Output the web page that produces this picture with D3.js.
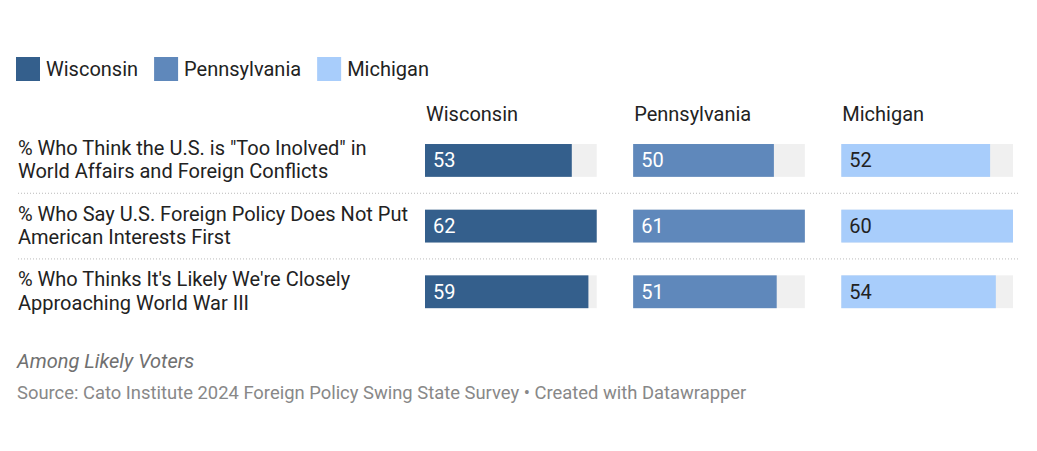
<!DOCTYPE html>
<html>
<head>
<meta charset="utf-8">
<script src="https://cdn.jsdelivr.net/npm/d3@7"></script>
<style>
  body { margin: 0; background: #fff; font-family: Roboto, "Noto Sans", sans-serif; }
</style>
</head>
<body>
<div id="chart"></div>
<script>
// data
const states = ["Wisconsin", "Pennsylvania", "Michigan"];
const colors = ["#345f8c", "#5f88bb", "#a8cdfb"];
const labelColors = ["#ffffff", "#ffffff", "#222222"];
const questions = [
  ["% Who Think the U.S. is \"Too Inolved\" in", "World Affairs and Foreign Conflicts"],
  ["% Who Say U.S. Foreign Policy Does Not Put", "American Interests First"],
  ["% Who Thinks It's Likely We're Closely", "Approaching World War III"]
];
const wisconsin = [53, 62, 59];
const pennsylvania = [50, 61, 51];
const michigan = [52, 60, 54];
const values = [wisconsin, pennsylvania, michigan];
const note = "Among Likely Voters";
const source = "Source: Cato Institute 2024 Foreign Policy Swing State Survey \u2022 Created with Datawrapper";

const width = 1037, height = 451;
const svg = d3.select("#chart").append("svg")
  .attr("width", width).attr("height", height);

// legend
let lx = 16;
states.forEach((s, i) => {
  const g = svg.append("g").attr("transform", "translate(" + lx + ",57)");
  g.append("rect").attr("width", 24).attr("height", 24).attr("fill", colors[i]);
  const t = g.append("text").attr("x", 30).attr("y", 19)
    .attr("font-size", 20).attr("fill", "#222").text(s);
  lx += 30 + t.node().getComputedTextLength() + 16;
});

// columns
const colX = d3.scaleBand().domain(states).range([425, 1013]).paddingInner(0.175);
const rowY = d3.scaleBand().domain(d3.range(questions.length)).range([127.6, 324.6]).paddingInner(0.5).paddingOuter(0.25);

states.forEach((s, ci) => {
  svg.append("text")
    .attr("x", colX(s) + 1).attr("y", 121)
    .attr("font-size", 20).attr("fill", "#222").text(s);
  const x = d3.scaleLinear().domain([0, d3.max(values[ci])]).range([0, colX.bandwidth()]);
  const g = svg.append("g").attr("transform", "translate(" + colX(s) + ",0)");
  g.selectAll("rect.bg").data(values[ci]).enter().append("rect")
    .attr("class", "bg")
    .attr("x", 0).attr("y", (d, i) => rowY(i))
    .attr("width", colX.bandwidth()).attr("height", rowY.bandwidth())
    .attr("fill", "#f0f0f0");
  g.selectAll("rect.bar").data(values[ci]).enter().append("rect")
    .attr("class", "bar")
    .attr("x", 0).attr("y", (d, i) => rowY(i))
    .attr("width", d => x(d)).attr("height", rowY.bandwidth())
    .attr("fill", colors[ci]);
  g.selectAll("text.val").data(values[ci]).enter().append("text")
    .attr("class", "val")
    .attr("x", 8).attr("y", (d, i) => rowY(i) + rowY.bandwidth() / 2 + 7)
    .attr("font-size", 20).attr("fill", labelColors[ci]).text(d => d);
});

// row labels
questions.forEach((q, i) => {
  const c = rowY(i) + rowY.bandwidth() / 2;
  svg.append("text")
    .attr("x", 18).attr("y", c - 5.5)
    .attr("font-size", 20).attr("fill", "#222").text(q[0]);
  svg.append("text")
    .attr("x", 18).attr("y", c + 18)
    .attr("font-size", 20).attr("fill", "#222").text(q[1]);
  if (i < questions.length - 1) {
    const ly = rowY(i) + rowY.bandwidth() + rowY.step() * rowY.paddingInner() / 2;
    svg.append("line")
      .attr("x1", 18).attr("x2", 1020).attr("y1", ly).attr("y2", ly)
      .attr("stroke", "#bbb").attr("stroke-dasharray", "1,2");
  }
});

// footer
svg.append("text").attr("x", 17).attr("y", 368)
  .attr("font-size", 20).attr("font-style", "italic").attr("fill", "#707070").text(note);
svg.append("text").attr("x", 17).attr("y", 399)
  .attr("font-size", 18.4).attr("fill", "#888").text(source);
</script>
</body>
</html>
